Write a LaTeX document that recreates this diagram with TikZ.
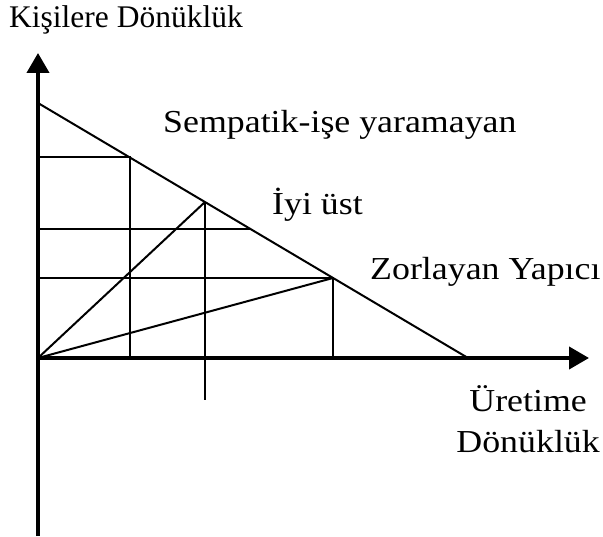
\documentclass[tikz,border=0pt]{standalone}
\usepackage{fontspec}
\setmainfont{Liberation Serif}[FakeStretch=1.12]
\newfontfamily\plainserif{Liberation Serif}
\usepackage{tikz}
\usetikzlibrary{arrows.meta, positioning}

\tikzset{
  axisline/.style={line width=4pt, -{Triangle[length=20pt, width=22pt]}},
  gridline/.style={line width=2pt},
  lbl/.style={font=\fontsize{32}{38}\selectfont, inner sep=0pt, anchor=base west}
}

\begin{document}
\begin{tikzpicture}[x=1pt, y=-1pt]
\useasboundingbox (0,0) rectangle (603,537);

% key points of the chart
\coordinate (O)    at (38,358);
\coordinate (ybot) at (38,536);
\coordinate (ytop) at (38,53);
\coordinate (xend) at (589,358);
\coordinate (A)    at (38,103);   % diagonal start
\coordinate (B)    at (468,358);  % diagonal end
\coordinate (P1)   at (130,157);
\coordinate (P2)   at (205,202);
\coordinate (P3)   at (251,229);
\coordinate (P4)   at (333,278);
\coordinate (L1)   at (38,157);
\coordinate (L3)   at (38,229);
\coordinate (L4)   at (38,278);
\coordinate (F1)   at (130,358);
\coordinate (F2)   at (205,400);
\coordinate (F4)   at (333,358);

% axes
\draw[axisline] (ybot) -- (ytop);
\draw[axisline] (O) -- (xend);

% diagonal and grid
\draw[gridline] (A) -- (B);
\draw[gridline] (L1) -- (P1) -- (F1);
\draw[gridline] (L3) -- (P3);
\draw[gridline] (L4) -- (P4) -- (F4);
\draw[gridline] (P2) -- (F2);
\draw[gridline] (O) -- (P2);
\draw[gridline] (O) -- (P4);

% labels
\node[lbl, font=\plainserif\fontsize{31.5}{38}\selectfont] (people) at (9,28) {Kişilere Dönüklük};
\node[lbl] (symp)   at (163,133) {Sempatik-işe yaramayan};
\node[lbl] (good)   at (272,215) {İyi üst};
\node[lbl] (force)  at (370,280) {Zorlayan Yapıcı};
\node[lbl, anchor=base east] (prodA) at (587,412) {Üretime};
\node[lbl, anchor=base east] (prodB) at (600,453) {Dönüklük};

\end{tikzpicture}
\end{document}
